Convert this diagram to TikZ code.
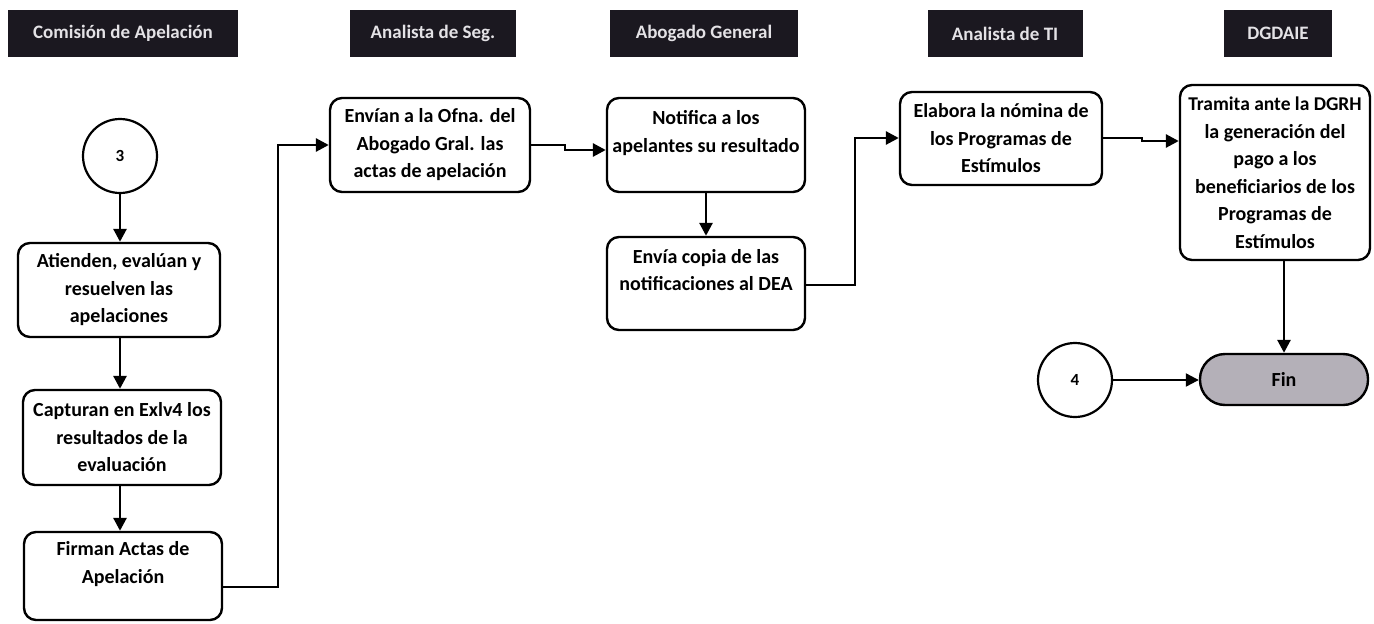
\documentclass[tikz,border=0pt]{standalone}
\usepackage{fontspec}
\setmainfont{Carlito}
\usetikzlibrary{arrows.meta}
\definecolor{hdr}{HTML}{1B1820}
\definecolor{hdrtxt}{HTML}{E4E2E6}
\definecolor{finfill}{HTML}{B4B0B8}
\newcommand\boxfont{\fontsize{20}{27.5}\selectfont\bfseries}
\newcommand\hdrfont{\fontsize{19}{22}\selectfont\bfseries}
\begin{document}
\begin{tikzpicture}[x=1pt,y=-1pt,
  hdrbox/.style={fill=hdr,text=hdrtxt,inner sep=0pt,minimum height=47pt,font=\hdrfont},
  procbox/.style={draw,line width=2.4pt,rounded corners=12pt,align=center,inner sep=0pt,font=\boxfont},
  conncircle/.style={draw,circle,line width=2.2pt,minimum size=74pt,inner sep=0pt,font=\fontsize{17}{20}\selectfont\bfseries},
  finbox/.style={draw,line width=2.4pt,rounded corners=25pt,fill=finfill,inner sep=0pt,minimum width=168pt,minimum height=51pt,font=\boxfont},
  conn/.style={line width=2.8pt,-{Triangle[length=13pt,width=13pt]}}
]
\fill[white] (0,0) rectangle (1374,624);
\useasboundingbox (0,0) rectangle (1374,624);

% headers
\node[hdrbox,minimum width=230pt] (h1) at (123,33.5) {Comisión de Apelación};
\node[hdrbox,minimum width=166pt] (h2) at (433,33.5) {Analista de Seg.};
\node[hdrbox,minimum width=188pt] (h3) at (704,33.5) {Abogado General};
\node[hdrbox,minimum width=155pt] (h4) at (1005,33.5) {Analista de TI};
\node[hdrbox,minimum width=108pt] (h5) at (1278,33.5) {DGDAIE};

% column 1
\node[conncircle] (c3) at (120,156) {3};
\node[procbox,minimum width=202pt,minimum height=94pt] (atienden) at (119,290)
  {Atienden, evalúan y\\resuelven las\\apelaciones};
\node[procbox,minimum width=198pt,minimum height=95pt] (capturan) at (122,437.5)
  {Capturan en Exlv4 los\\resultados de la\\evaluación};
\node[procbox,minimum width=198pt,minimum height=88pt] (firman) at (123,576)
  {Firman Actas de\\Apelación\\\mbox{}};

% column 2
\node[procbox,minimum width=200pt,minimum height=94pt] (envian) at (430,145)
  {Envían a la Ofna. del\\Abogado Gral. las\\actas de apelación};

% column 3
\node[procbox,minimum width=198pt,minimum height=94pt] (notifica) at (706,145)
  {Notifica a los\\apelantes su resultado\\\mbox{}};
\node[procbox,minimum width=198pt,minimum height=93pt] (copia) at (706,283.5)
  {Envía copia de las\\notificaciones al DEA\\\mbox{}};

% column 4
\node[procbox,minimum width=202pt,minimum height=93pt] (elabora) at (1001,138.5)
  {Elabora la nómina de\\los Programas de\\Estímulos};

% column 5
\node[procbox,minimum width=190pt,minimum height=175pt] (tramita) at (1275,172.5)
  {\fontsize{19.5}{28}\selectfont Tramita ante la DGRH\\la generación del\\pago a los\\beneficiarios de los\\Programas de\\Estímulos};
\node[finbox] (fin) at (1284,379.5) {Fin};
\node[conncircle] (c4) at (1075,380) {4};

% elbow coordinates
\coordinate (j1) at (278,587);
\coordinate (j2) at (278,145);
\coordinate (j3) at (565,145);
\coordinate (j4) at (565,150);
\coordinate (j5) at (855,285);
\coordinate (j6) at (855,138);
\coordinate (j7) at (1142,138);
\coordinate (j8) at (1142,141);

% connectors
\draw[conn] (c3) -- (c3 |- atienden.north);
\draw[conn] (c3 |- atienden.south) -- (c3 |- capturan.north);
\draw[conn] (c3 |- capturan.south) -- (c3 |- firman.north);
\draw[conn] (firman.east |- j1) -- (j1) -- (j2) -- (envian.west |- j2);
\draw[conn] (envian.east |- j3) -- (j3) -- (j4) -- (notifica.west |- j4);
\draw[conn] (notifica) -- (copia);
\draw[conn] (copia.east |- j5) -- (j5) -- (j6) -- (elabora.west |- j6);
\draw[conn] (elabora.east |- j7) -- (j7) -- (j8) -- (tramita.west |- j8);
\draw[conn] (tramita.south -| fin.north) -- (fin.north);
\draw[line width=2.2pt,-{Triangle[length=13pt,width=13pt]}] (c4) -- (fin.west |- c4);
\end{tikzpicture}
\end{document}
